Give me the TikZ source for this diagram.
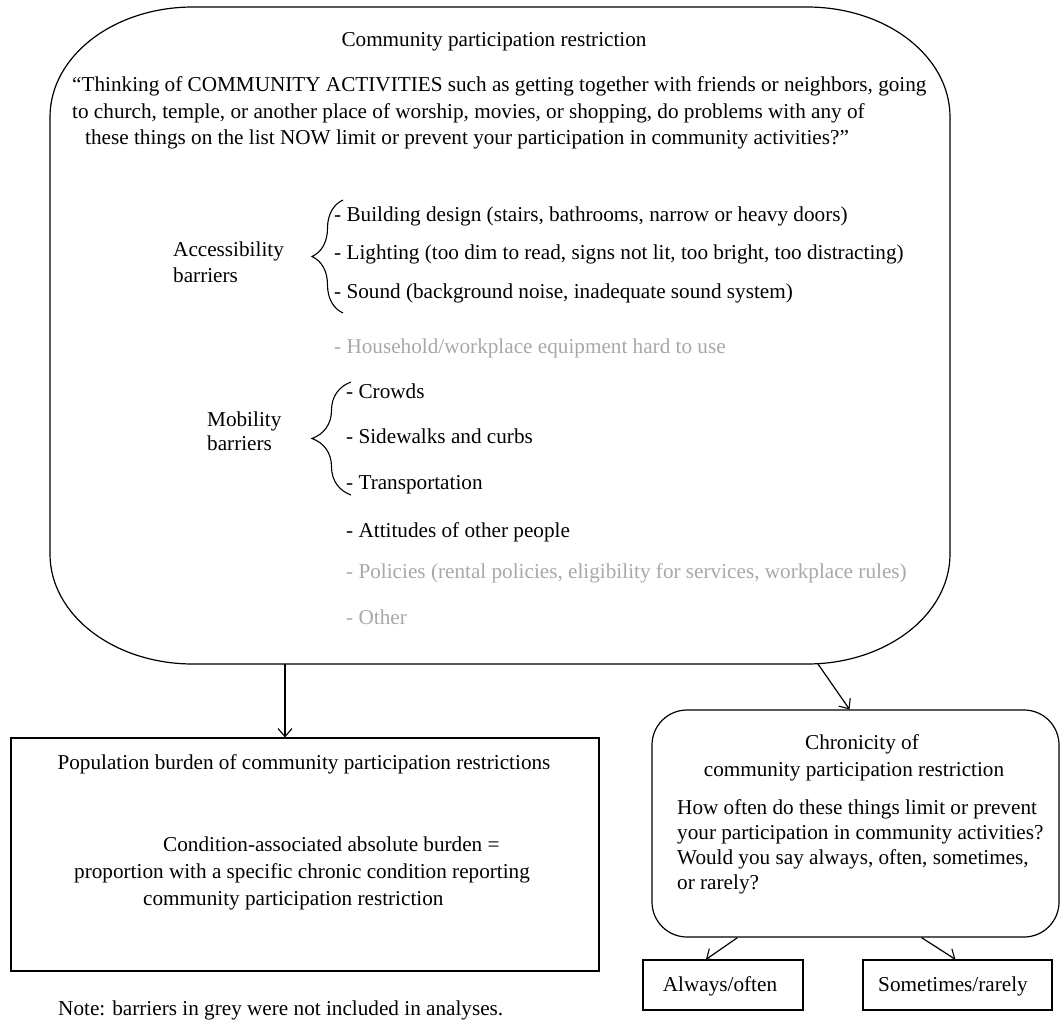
\documentclass[tikz,border=0pt]{standalone}
\usepackage{fontspec}
\setmainfont{Liberation Serif}
\usetikzlibrary{arrows.meta,decorations.pathreplacing,calc}
\begin{document}
\begin{tikzpicture}[x=1pt,y=-1pt,
  every node/.style={font=\fontsize{21.2}{27.5}\selectfont, inner sep=0pt},
  txt/.style={anchor=base west},
  ctxt/.style={anchor=base},
  grey/.style={text=black!34},
  ln/.style={line width=1.2pt},
  arr/.style={ln,-{Straight Barb[length=8pt,width=14pt,line width=1.1pt]}},
  bx/.style={draw, ln},
  brc/.style={line width=1.1pt, decorate, decoration={brace, amplitude=#1}}
]
\useasboundingbox (0,0) rectangle (1060,1020);

% main rounded box
\node[minimum width=900pt, minimum height=657pt] (main) at (500,335.5) {};
\draw[ln] (193,7) -- (807,7) .. controls (886,7) and (950,56) .. (950,117)
  -- (950,554) .. controls (950,615) and (886,664) .. (807,664)
  -- (193,664) .. controls (114,664) and (50,615) .. (50,554)
  -- (50,117) .. controls (50,56) and (114,7) .. (193,7) -- cycle;

\node[ctxt] (title) at (494,46) {Community participation restriction};
\node[txt] (q1) at (72,91) {“Thinking of COMMUNITY ACTIVITIES such as getting together with friends or neighbors, going};
\node[txt] (q2) at (72,118) {to church, temple, or another place of worship, movies, or shopping, do problems with any of};
\node[txt] (q3) at (85,144) {these things on the list NOW limit or prevent your participation in community activities?”};

\node[txt] (acc1) at (173,256) {Accessibility};
\node[txt] (acc2) at (173,282) {barriers};
\draw[brc=31pt] (343,313) -- (343,200);
\node[txt] (b1) at (334,221) {- Building design (stairs, bathrooms, narrow or heavy doors)};
\node[txt] (b2) at (334,259) {- Lighting (too dim to read, signs not lit, too bright, too distracting)};
\node[txt] (b3) at (334,298) {- Sound (background noise, inadequate sound system)};
\node[txt,grey] (b4) at (334,353) {- Household/workplace equipment hard to use};

\node[txt] (mob1) at (207,426) {Mobility};
\node[txt] (mob2) at (207,450) {barriers};
\draw[brc=39pt] (351,495) -- (351,382);
\node[txt] (m1) at (346,398) {- Crowds};
\node[txt] (m2) at (346,443) {- Sidewalks and curbs};
\node[txt] (m3) at (346,489) {- Transportation};
\node[txt] (o1) at (346,537) {- Attitudes of other people};
\node[txt,grey] (o2) at (346,578) {- Policies (rental policies, eligibility for services, workplace rules)};
\node[txt,grey] (o3) at (346,624) {- Other};

% population box
\node[bx, minimum width=588pt, minimum height=233pt] (pop) at (305,854.5) {};
\node[ctxt] (pt) at (304,769) {Population burden of community participation restrictions};
\node[txt] (p1) at (163,851) {Condition-associated absolute burden =};
\node[txt] (p2) at (74,878) {proportion with a specific chronic condition reporting};
\node[txt] (p3) at (143,905) {community participation restriction};

% chronicity box
\node[bx, rounded corners=35pt, minimum width=407pt, minimum height=227pt] (chr) at (855.5,823.5) {};
\node[ctxt] (ct1) at (862,749) {Chronicity of};
\node[ctxt] (ct2) at (854,776) {community participation restriction};
\node[txt] (c1) at (677,814) {How often do these things limit or prevent};
\node[txt] (c2) at (677,839) {your participation in community activities?};
\node[txt] (c3) at (677,864) {Would you say always, often, sometimes,};
\node[txt] (c4) at (677,889) {or rarely?};

% outcome boxes
\node[bx, minimum width=160pt, minimum height=50pt] (alw) at (723,985) {};
\node[ctxt] at (720,991) (alwt) {Always/often};
\node[bx, minimum width=189pt, minimum height=50pt] (som) at (957.5,985) {};
\node[ctxt] at (953,991) (somt) {Sometimes/rarely};

\node[txt] (note) at (58,1015) {Note: barriers in grey were not included in analyses.};

% connectors
\coordinate (s1) at (285,664);
\coordinate (s2) at (818,664);
\draw[arr] (s1) -- (s1 |- pop.north);
\draw[arr] (s2) -- ([xshift=-6pt]chr.north);
\draw[arr] ([xshift=-118pt]chr.south) -- ([xshift=-17pt]alw.north);
\draw[arr] ([xshift=66pt]chr.south) -- ([xshift=-2pt]som.north);
\end{tikzpicture}
\end{document}
